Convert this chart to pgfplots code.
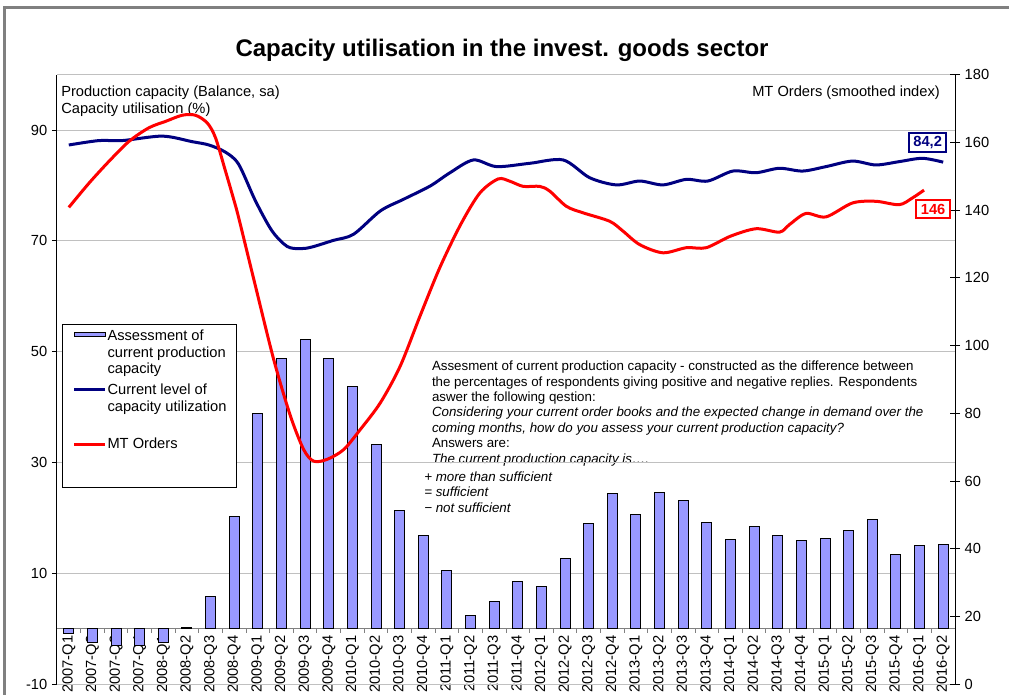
\documentclass[border=0pt]{standalone}
\usepackage{pgfplots}
\pgfplotsset{compat=1.18}
\usepackage{fontspec}
\setmainfont{Liberation Sans}
\definecolor{navy}{RGB}{0,0,128}
\definecolor{barfill}{RGB}{153,153,255}
\definecolor{framegray}{RGB}{128,128,128}
\definecolor{gridgray}{RGB}{192,192,192}
\newcommand\legtext[3]{\vtop{\hbox{\strut#1}\hbox{\strut#2}\hbox{\strut#3}}}
\newcommand\legtextshort[1]{\vtop{\hbox{\strut#1}\hbox{\strut}\hbox{\vrule height 8.75pt depth 0pt width 0pt}}}
\begin{document}
\begin{tikzpicture}
\useasboundingbox (0,0) rectangle (756.75pt,521.25pt);
\clip (0,0) rectangle (756.75pt,521.25pt);
\draw[framegray, line width=2.25pt] (3.4pt,-5pt) -- (3.4pt,515.25pt) -- (770pt,515.25pt);
\node[font=\bfseries\fontsize{18}{21}\selectfont, anchor=base] at (376.5pt,478.5pt) {Capacity utilisation in the invest. goods sector};
\node[font=\fontsize{11}{13}\selectfont, anchor=base west, inner sep=0pt] at (45.75pt,448.7pt) {Production capacity (Balance, sa)};
\node[font=\fontsize{11}{13}\selectfont, anchor=base west, inner sep=0pt] at (45.75pt,436.25pt) {Capacity utilisation (\%)};
\node[font=\fontsize{11}{13}\selectfont, anchor=base east, inner sep=0pt] at (705pt,448.5pt) {MT Orders (smoothed index)};
\node[font=\fontsize{10}{11.55}\selectfont, anchor=base west, inner sep=0pt] at (323.8pt,243.2pt) {\vtop{\baselineskip=11.55pt
\hbox{Assesment of current production capacity - constructed as the difference between}
\hbox{the percentages of respondents giving positive and negative replies. Respondents}
\hbox{aswer the following qestion:}
\hbox{\itshape Considering your current order books and the expected change in demand over the}
\hbox{\itshape coming months, how do you assess your current production capacity?}
\hbox{Answers are:}
\hbox{\itshape The current production capacity is….}}};
\node[font=\fontsize{10}{11.55}\selectfont\itshape, anchor=base west, inner sep=0pt] at (318pt,160.2pt) {\vtop{\baselineskip=11.55pt
\hbox{+ more than sufficient}
\hbox{= sufficient}
\hbox{− not sufficient}}};
\begin{axis}[
  at={(42.75pt,7.95pt)}, anchor=south west,
  scale only axis, width=673.5pt, height=457.35pt,
  xmin=-0.5, xmax=37.5, ymin=-10, ymax=100,
  axis x line*=middle, axis y line*=left,
  x axis line style={gray, line width=0.75pt},
  y axis line style={black, line width=0.75pt},
  xtick={0,...,37},
  xticklabels={2007-Q1,2007-Q2,2007-Q3,2007-Q4,2008-Q1,2008-Q2,2008-Q3,2008-Q4,2009-Q1,2009-Q2,2009-Q3,2009-Q4,2010-Q1,2010-Q2,2010-Q3,2010-Q4,2011-Q1,2011-Q2,2011-Q3,2011-Q4,2012-Q1,2012-Q2,2012-Q3,2012-Q4,2013-Q1,2013-Q2,2013-Q3,2013-Q4,2014-Q1,2014-Q2,2014-Q3,2014-Q4,2015-Q1,2015-Q2,2015-Q3,2015-Q4,2016-Q1,2016-Q2},
  major x tick style={draw=none},
  minor xtick={-0.5,0.5,...,37.5},
  minor x tick style={gray, line width=0.75pt},
  minor tick length=3pt,
  major tick length=3.75pt,
  tick align=outside,
  x tick label style={rotate=90, anchor=east, inner sep=1pt},
  ytick={-10,10,...,90},
  y tick style={black, line width=0.75pt},
  ymajorgrids, major grid style={gridgray, line width=0.75pt},
  tick label style={font=\fontsize{11}{13}\selectfont},
  /pgf/number format/assume math mode=true,
  clip=false,
  legend style={at={(rel axis cs:0.0056,0.591)}, anchor=north west, draw=black, line width=0.75pt, fill=white,
    inner xsep=7.5pt, inner ysep=3.25pt, row sep=3pt, column sep=0.75pt,
    cells={anchor=base west}, nodes={inner sep=0pt, text depth=, text height=},
    font=\fontsize{11}{12.5}\selectfont},
]
\draw[gridgray, line width=0.75pt] (rel axis cs:0,1) -- (rel axis cs:1,1);
\draw[gridgray, line width=0.75pt] (rel axis cs:0,0) -- (rel axis cs:1,0);
\addplot[ybar, bar width=7.5pt, fill=barfill, draw=black, line width=0.75pt,
  legend image code/.code={\draw[fill=barfill, draw=black, line width=0.75pt] (0pt,3pt) rectangle (23.25pt,6pt);}]
  coordinates {
(0,-0.9) (1,-2.5) (2,-3.0) (3,-3.0) (4,-2.5) (5,0.35) (6,5.9) (7,20.2) (8,38.8) (9,48.7)
(10,52.2) (11,48.7) (12,43.7) (13,33.2) (14,21.4) (15,16.8) (16,10.6) (17,2.4) (18,4.9) (19,8.5)
(20,7.6) (21,12.7) (22,19.0) (23,24.5) (24,20.7) (25,24.6) (26,23.2) (27,19.2) (28,16.1) (29,18.5)
(30,16.8) (31,15.9) (32,16.3) (33,17.8) (34,19.7) (35,13.4) (36,15.0) (37,15.2)};
\addlegendentry{\legtext{Assessment of}{current production}{capacity}}
\addplot[navy, line width=2.25pt, smooth, tension=0.5,
  legend image code/.code={\draw[navy, line width=2.25pt] (0pt,3.75pt) -- (23.25pt,3.75pt);}]
  coordinates {
(0,87.3) (1.28,88.1) (2.27,88.1) (3.96,88.9) (5.22,87.9) (5.93,87.3) (6.63,86.0) (7.19,83.8)
(7.90,77.2) (8.60,71.8) (9.24,69.0) (9.8,68.6) (10.29,68.9) (11.2,70.1) (12.05,71.2) (13.18,75.4)
(14.16,77.5) (15.29,79.9) (16.13,82.3) (17.12,84.6) (18.1,83.4) (19.51,84.0) (20.92,84.6) (22.04,81.4)
(23.17,80.1) (24.16,80.8) (25.14,80.1) (26.13,81.1) (27.04,80.8) (28.1,82.6) (29.08,82.3) (30.07,83.1)
(31.05,82.6) (32.04,83.4) (33.16,84.4) (34.15,83.7) (35.14,84.3) (36.12,84.9) (37,84.2)};
\addlegendentry{\legtext{Current level of}{capacity utilization}{}}
\addlegendimage{legend image code/.code={\draw[red, line width=2.25pt] (0pt,3.2pt) -- (23.25pt,3.2pt);}}
\addlegendentry{\legtextshort{MT Orders}}
\node[draw=navy, line width=1.5pt, fill=white, text=navy, font=\bfseries\fontsize{11}{13}\selectfont, inner xsep=3pt, inner ysep=2.5pt, anchor=east] at (axis cs:37.16,87.7) {84,2};
\end{axis}
\begin{axis}[
  at={(42.75pt,7.95pt)}, anchor=south west,
  scale only axis, width=673.5pt, height=457.35pt,
  xmin=-0.5, xmax=37.5, ymin=0, ymax=180,
  axis y line*=right, axis x line=none,
  y axis line style={black, line width=0.75pt},
  ytick={0,20,...,180},
  tick align=center, major tick length=7.5pt,
  y tick style={black, line width=0.75pt},
  tick label style={font=\fontsize{11}{13}\selectfont},
  /pgf/number format/assume math mode=true,
  clip=false,
]
\addplot[red, line width=2.25pt, smooth, tension=0.5] coordinates {
(0,140.8) (0.86,148) (1.70,154.4) (2.55,160.3) (3.39,164.3) (4.10,166.2) (4.80,168) (5.36,168)
(5.86,165.7) (6.21,161.3) (6.63,151.5) (6.98,143.1) (7.19,137.7) (7.83,119.5) (8.67,95.9) (9.38,79.2)
(9.94,69.3) (10.36,65.9) (10.92,66.4) (11.63,69.3) (12.33,75.2) (13.18,83.1) (14.02,93.9) (14.86,108.7)
(15.71,123.2) (16.6,136) (17.40,145.1) (18.17,149.2) (18.67,148.5) (19.23,147) (19.93,147) (20.35,145.6)
(21.06,141.1) (21.76,139.2) (22.89,136.7) (23.45,133.8) (24.16,129.8) (25.14,127.4) (26.13,128.9) (26.97,128.9)
(28.0,132.3) (29.08,134.5) (30.07,133.5) (30.49,135.7) (31.19,139) (32.04,138) (33.16,142.1) (34.15,142.6)
(35.14,141.6) (35.70,143.6) (36.19,145.9)};
\node[draw=red, line width=1.5pt, fill=white, text=red, font=\bfseries\fontsize{11}{13}\selectfont, inner xsep=3.5pt, inner ysep=3pt, anchor=east] at (axis cs:37.33,140.3) {146};
\end{axis}
\end{tikzpicture}
\end{document}
